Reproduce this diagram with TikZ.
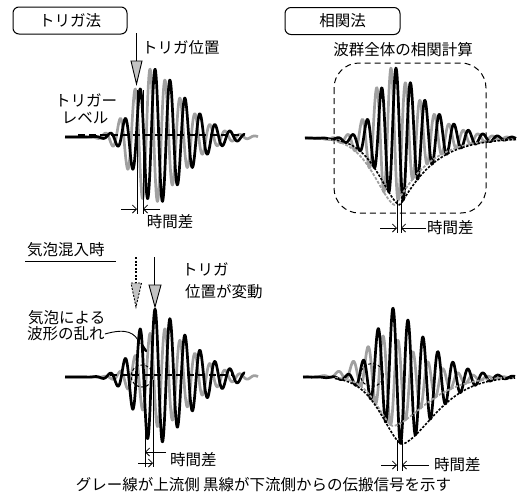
\documentclass[tikz,border=0pt]{standalone}
\usepackage{fontspec}
\setmainfont{Noto Sans CJK JP}
\usetikzlibrary{arrows.meta}
\definecolor{wgray}{RGB}{160,160,160}
\definecolor{tgray}{RGB}{195,195,195}
\begin{document}
\begin{tikzpicture}[x=1pt,y=-1pt,
  declare function={
    pw(\bb,\ee)=exp(\ee*ln(max(\bb,0.02)));
    asym(\ax,\cen,\sla,\pla,\sra,\pra)=(\ax<\cen)*exp(0-min(pw(abs(\cen-\ax)/\sla,\pla),9))+(\ax>=\cen)*exp(0-min(pw(abs(\ax-\cen)/\sra,\pra),9));
    wTL(\xx)=68*asym(\xx,156,27,2,42,1.57)*sin(24*(\xx-136.25));
    wBL(\xx)=68*asym(\xx,156,27,2,46,1.57)*sin(24*(\xx-136.25));
    wGL(\xx)=50*asym(\xx,160,27,2,42,1.57)*sin(24*(\xx-131.25));
    lTR(\xx)=67*asym(\xx,400,29.3,1.6,34,1.1);
    uTR(\xx)=70*asym(\xx,396,25,2,41,1.39);
    wTR(\xx)=0-lTR(\xx)+(uTR(\xx)+lTR(\xx))*(1+cos(24.8276*(\xx-396)))/2;
    lBR(\xx)=67*asym(\xx,402,29.3,1.6,46,1.59);
    uBR(\xx)=69*asym(\xx,393,25,2,45,1.5);
    wBR(\xx)=0-lBR(\xx)+(uBR(\xx)+lBR(\xx))*(1+cos(24*(\xx-393)))/2;
    lGB(\xx)=49*asym(\xx,393,23.3,1.6,46,1.55);
    uGB(\xx)=42*asym(\xx,388,35,2,39.5,1.47);
    wGB(\xx)=0-lGB(\xx)+(uGB(\xx)+lGB(\xx))*(1+cos(24*(\xx-383)))/2;
  },
  lbl/.style={font=\fontsize{15.5}{18}\selectfont, inner sep=0pt},
  titlebox/.style={draw, line width=1pt, rounded corners=6pt, minimum height=27pt},
  blkw/.style={line width=2.7pt, black, line join=round},
  gryw/.style={line width=2.7pt, wgray, line join=round},
  benv/.style={line width=1.6pt, black, dash pattern=on 2.5pt off 1.5pt},
  genv/.style={line width=1.8pt, wgray, dash pattern=on 3pt off 1.5pt},
  tline/.style={line width=0.8pt},
  tarrow/.style={line width=0.8pt, -{Straight Barb[length=4pt,width=8pt]}},
  trig/.style={line width=0.9pt, fill=tgray},
  circ/.style={line width=1pt, dash pattern=on 3pt off 2pt},
  lvl/.style={line width=1.6pt, dash pattern=on 7pt off 4pt}
]
\useasboundingbox (0,0) rectangle (517,501);

% ---------- titles ----------
\node[titlebox, lbl, minimum width=114pt] (tb1) at (70,20.5) {トリガ法};
\node[titlebox, lbl, minimum width=115pt] (tb2) at (342.5,21) {相関法};

% ---------- panel 1: trigger method ----------
\coordinate (t1a) at (136.5,33);
\coordinate (t1b) at (136.5,61);
\draw[tline] (t1a) -- (t1b);
\draw[trig] (131,61) -- (142,61) -- (136.5,84) -- cycle;
\node[lbl, anchor=west] (trpos) at (142,48) {トリガ位置};
\node[lbl] (trl1) at (86,100) {トリガー};
\node[lbl] (trl2) at (85,118) {レベル};

\draw[gryw] plot[domain=65:258, samples=450] (\x, {137 - wTL(\x+5)});
\draw[blkw] plot[domain=65:245, samples=420] (\x, {137 - wTL(\x)});
\draw[lvl] (78,135) -- (240,135);

\coordinate (d1a) at (137,90); \coordinate (d1b) at (137,214);
\coordinate (d1c) at (143,90); \coordinate (d1d) at (143,214);
\draw[tline] (d1a) -- (d1b);
\draw[tline] (d1c) -- (d1d);
\coordinate (a1l) at (121,209); \coordinate (a1r) at (160,209);
\draw[tarrow] (a1l) -- (137,209);
\draw[tarrow] (a1r) -- (143,209);
\node[lbl] (td1) at (170,222) {時間差};

% ---------- panel 2: correlation method ----------
\node[lbl] (corr) at (403,50) {波群全体の相関計算};
\draw[line width=1pt, dash pattern=on 6pt off 4pt, rounded corners=25pt] (334,63) rectangle (486,213);

\draw[gryw] plot[domain=305:516, samples=500] (\x, {138 - wTR(\x+5)});
\draw[blkw] plot[domain=305:516, samples=500] (\x, {138 - wTR(\x)});
\draw[genv] plot[domain=328:511, samples=200] (\x, {138 + lTR(\x+5)});
\draw[benv] plot[domain=333:516, samples=200] (\x, {138 + lTR(\x)});

\coordinate (d2a) at (397,200); \coordinate (d2b) at (397,233);
\coordinate (d2c) at (401,200); \coordinate (d2d) at (401,233);
\draw[tline] (d2a) -- (d2b);
\draw[tline] (d2c) -- (d2d);
\coordinate (a2l) at (380,228); \coordinate (a2r) at (426,228);
\draw[tarrow] (a2l) -- (397,228);
\draw[tarrow] (a2r) -- (401,228);
\node[lbl, anchor=west] (td2) at (427,228) {時間差};

% ---------- panel 3: bubbles, trigger ----------
\node[lbl, anchor=west] (bub) at (27,250) {気泡混入時};
\draw[line width=1pt] (25,261) -- (116,261);

\coordinate (t2a) at (136,257);
\coordinate (t2b) at (136,283);
\draw[tline, dash pattern=on 2pt off 1.5pt, line width=1.2pt] (t2a) -- (t2b);
\draw[trig, dash pattern=on 2pt off 1.5pt] (131,283) -- (141.5,283) -- (136,307) -- cycle;
\coordinate (t3a) at (154.5,257);
\coordinate (t3b) at (154.5,285);
\draw[tline] (t3a) -- (t3b);
\draw[trig] (149,285) -- (161,285) -- (155,307) -- cycle;

\node[lbl, anchor=west] (tv1) at (182,269) {トリガ};
\node[lbl, anchor=west] (tv2) at (185,292) {位置が変動};
\node[lbl, anchor=west] (bd1) at (28,318) {気泡による};
\node[lbl, anchor=west] (bd2) at (27,334) {波形の乱れ};

\draw[gryw] plot[domain=65:258, samples=450] (\x, {377 - wGL(\x)});
\draw[blkw] plot[domain=65:245, samples=420] (\x, {377 - wBL(\x)});
\draw[line width=2.4pt, line cap=round] (142,345) -- (146,351);
\draw[lvl] (110,375) -- (232,375);
\draw[circ] (142,376) circle[radius=11];
\coordinate (kink) at (140,344);
\draw[line width=0.9pt] (bd2.east) .. controls (126,328) and (135,332) .. (kink);

\coordinate (d3a) at (145,380); \coordinate (d3b) at (145,467);
\coordinate (d3c) at (153,380); \coordinate (d3d) at (153,467);
\draw[tline] (d3a) -- (d3b);
\draw[tline] (d3c) -- (d3d);
\coordinate (a3r) at (166,452); \coordinate (a3l) at (138,463);
\draw[tarrow] (a3r) -- (145,452);
\draw[tarrow] (a3l) -- (153,463);
\node[lbl, anchor=west] (td3) at (170,460) {時間差};

% ---------- panel 4: bubbles, correlation ----------
\draw[gryw] plot[domain=303:515, samples=500] (\x, {377 - wGB(\x)});
\draw[blkw] plot[domain=303:515, samples=500] (\x, {377 - wBR(\x)});
\draw[genv] plot[domain=335:505, samples=200] (\x, {377 + lGB(\x)});
\draw[benv] plot[domain=335:515, samples=200] (\x, {377 + lBR(\x)});
\draw[circ] (372,375) circle[radius=11.5];

\coordinate (d4a) at (397,440); \coordinate (d4b) at (397,471);
\coordinate (d4c) at (402,440); \coordinate (d4d) at (402,471);
\draw[tline] (d4a) -- (d4b);
\draw[tline] (d4c) -- (d4d);
\coordinate (a4l) at (381,465); \coordinate (a4r) at (429,465);
\draw[tarrow] (a4l) -- (397,465);
\draw[tarrow] (a4r) -- (402,465);
\node[lbl, anchor=west] (td4) at (434,465) {時間差};

% ---------- caption ----------
\node[lbl] (cap) at (263.5,485) {グレー線が上流側 黒線が下流側からの伝搬信号を示す};
\end{tikzpicture}
\end{document}
